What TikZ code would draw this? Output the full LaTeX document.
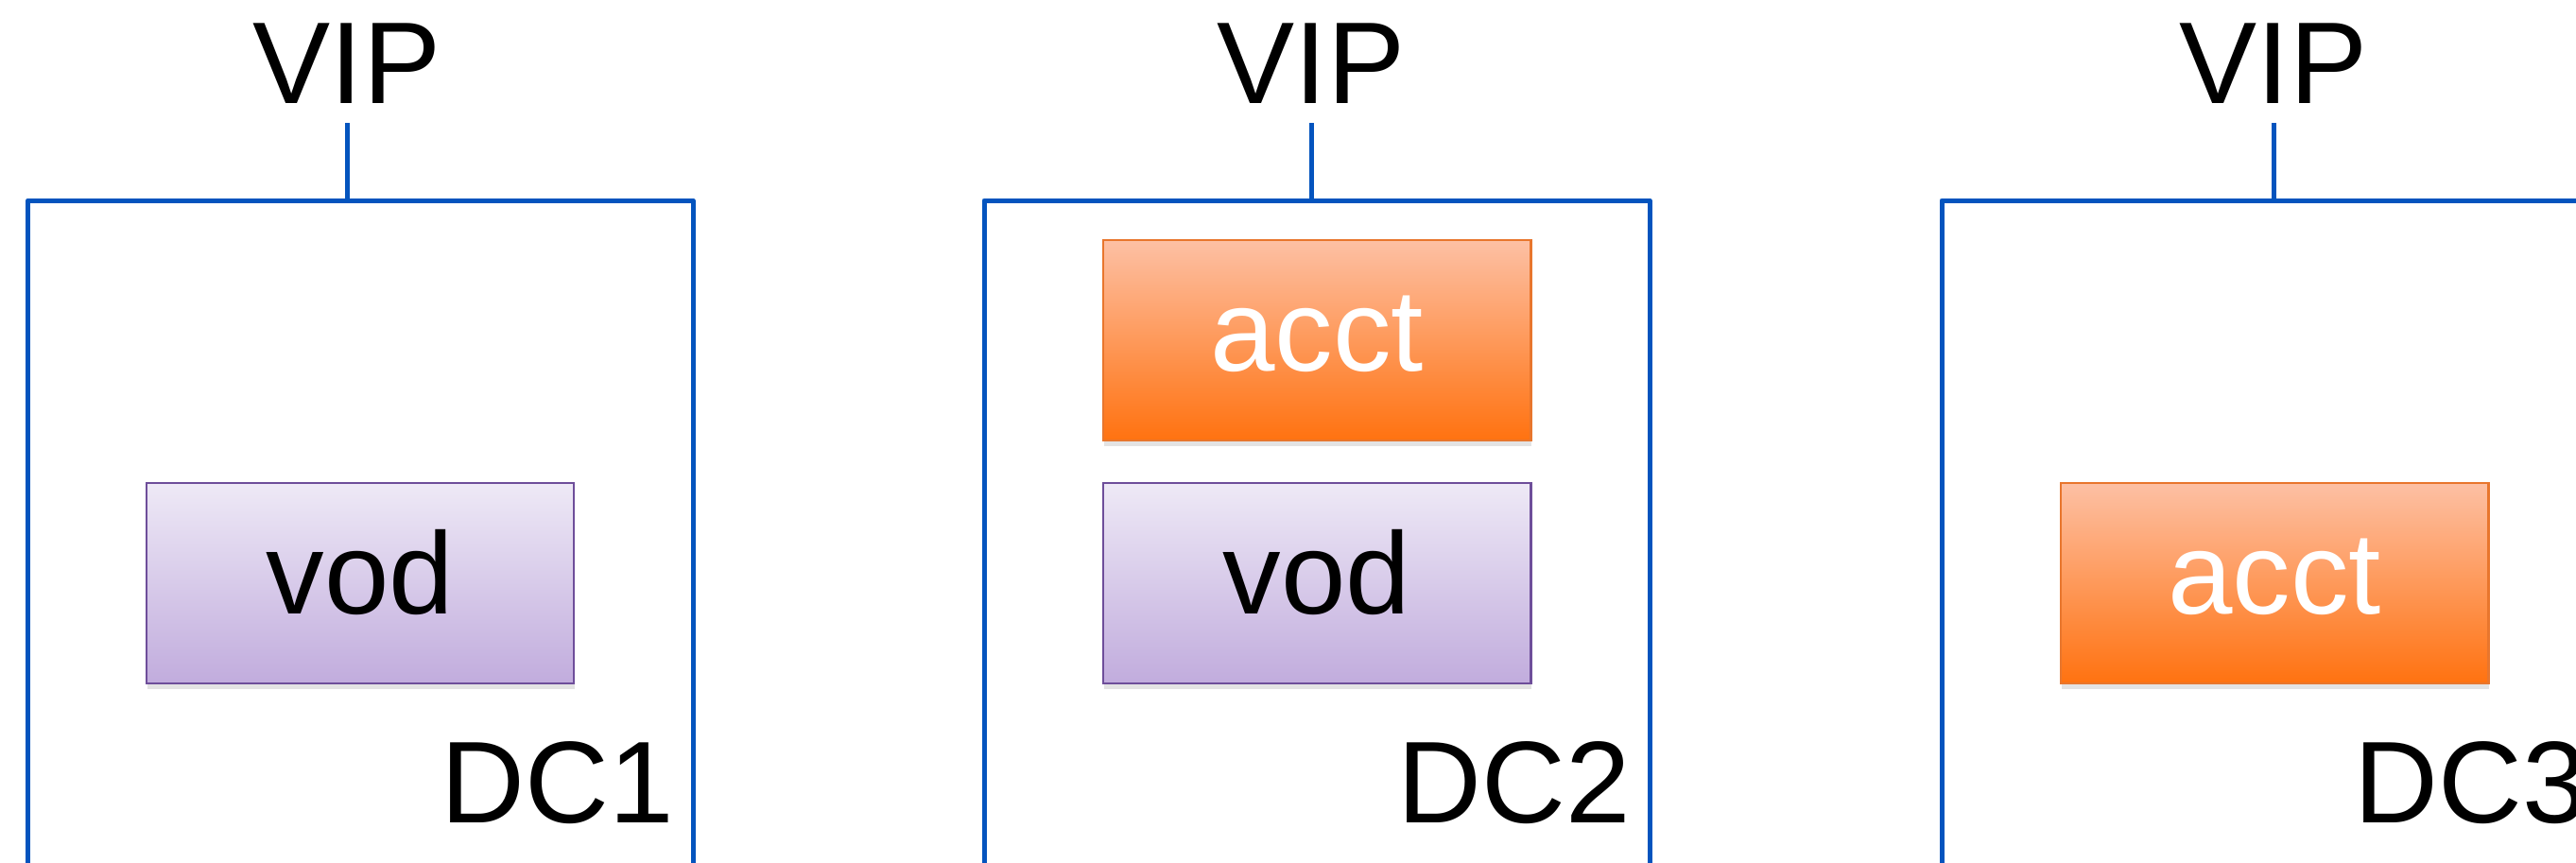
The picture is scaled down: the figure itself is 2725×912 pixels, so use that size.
\documentclass[tikz,border=0pt]{standalone}
\usepackage{fontspec}
\setmainfont{Liberation Sans}
\usetikzlibrary{shadows}
\definecolor{dcblue}{RGB}{4,84,190}
\definecolor{acctTop}{RGB}{253,192,164}
\definecolor{acctBot}{RGB}{255,114,16}
\definecolor{acctLine}{RGB}{232,118,45}
\definecolor{vodTop}{RGB}{238,233,246}
\definecolor{vodBot}{RGB}{193,172,221}
\definecolor{vodLine}{RGB}{110,78,154}
\tikzset{
  big/.style={font=\fontsize{35}{40}\selectfont},
  dcline/.style={draw=dcblue, line width=0.05cm, line join=round},
  svc/.style={big, rectangle, inner sep=0pt, minimum width=4.52cm, minimum height=2.12cm,
    text height=0.9cm, text depth=0.26cm, line width=0.027cm,
    drop shadow={opacity=0.22, shadow xshift=0.01cm, shadow yshift=-0.06cm}},
  acctbox/.style={svc, draw=acctLine, top color=acctTop, bottom color=acctBot, text=white},
  vodbox/.style={svc, draw=vodLine, top color=vodTop, bottom color=vodBot, text=black},
  vip/.style={big, inner xsep=0pt, inner ysep=0.2cm, text depth=0pt, anchor=south},
  dclabel/.style={big, inner sep=0pt, anchor=base west},
}
\begin{document}
\begin{tikzpicture}[x=0.01cm, y=-0.01cm]
  \useasboundingbox (0,0) rectangle (2725,912);
  \clip (0,0) rectangle (2725,912);

  % data centre 1
  \node[vip] (vip1) at (367,130) {VIP};
  \coordinate (top1) at (367,212);
  \draw[dcline] (29.5,1000) -- (29.5,212) -- (733,212) -- (733,1000);
  \draw[dcline] (vip1.south) -- (top1);
  \node[vodbox] (vod1) at (381,617) {vod};
  \node[dclabel] (dc1) at (466,870) {DC1};

  % data centre 2
  \node[vip] (vip2) at (1387,130) {VIP};
  \coordinate (top2) at (1387,212);
  \draw[dcline] (1041,1000) -- (1041,212) -- (1745,212) -- (1745,1000);
  \draw[dcline] (vip2.south) -- (top2);
  \node[acctbox] (acct2) at (1393,360) {acct};
  \node[vodbox] (vod2) at (1393,617) {vod};
  \node[dclabel] (dc2) at (1478,870) {DC2};

  % data centre 3
  \node[vip] (vip3) at (2405,130) {VIP};
  \coordinate (top3) at (2405,212);
  \draw[dcline] (2054,1000) -- (2054,212) -- (2758,212) -- (2758,1000);
  \draw[dcline] (vip3.south) -- (top3);
  \node[acctbox] (acct3) at (2406,617) {acct};
  \node[dclabel] (dc3) at (2490,870) {DC3};
\end{tikzpicture}
\end{document}
